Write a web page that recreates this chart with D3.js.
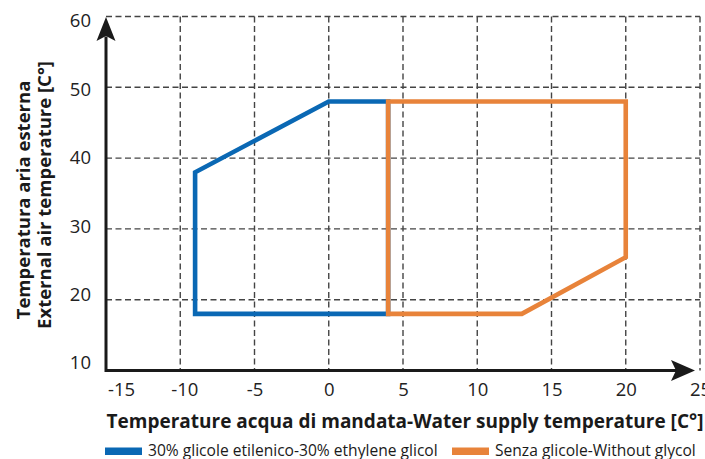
<!DOCTYPE html>
<html lang="it">
<head>
<meta charset="UTF-8">
<title>Campo di funzionamento</title>
<script src="https://d3js.org/d3.v7.min.js"></script>
<style>
  body { margin: 0; background: #fff; font-family: "Open Sans", sans-serif; }
  svg { display: block; }
</style>
</head>
<body>
<div id="chart"></div>
<script>
// values
const xTicks = [-15, -10, -5, 0, 5, 10, 15, 20, 25];
const yTicks = [10, 20, 30, 40, 50, 60];
const glycolX = [-9, -9, 0, 4, 4];
const glycolY = [18, 38, 48, 48, 18];
const waterX = [4, 20, 20, 13, 4];
const waterY = [48, 48, 26, 18, 18];
const seriesNames = ["30% glicole etilenico-30% ethylene glicol", "Senza glicole-Without glycol"];
const seriesColors = ["#0a68b4", "#e8833a"];

const width = 705, height = 459;
const svg = d3.select("#chart").append("svg").attr("width", width).attr("height", height);

const x = d3.scaleLinear().domain([-15, 25]).range([106, 700]);
const y = d3.scaleLinear().domain([10, 60]).range([370.5, 16.5]);
// the y labels in the original are spaced a little tighter than the grid
const yLab = d3.scaleLinear().domain([10, 60]).range([363, 21]);

// dashed grid
const grid = svg.append("g").attr("stroke", "#444").attr("stroke-width", 1.4).attr("stroke-dasharray", "6,3.5");
grid.selectAll(".vg").data(xTicks.slice(1)).enter().append("line")
    .attr("x1", d => x(d)).attr("x2", d => x(d))
    .attr("y1", y(60)).attr("y2", y(10));
grid.selectAll(".hg").data(yTicks.slice(1)).enter().append("line")
    .attr("x1", x(-15)).attr("x2", x(25))
    .attr("y1", d => y(d)).attr("y2", d => y(d));

// axis lines with arrows
const ax = svg.append("g").attr("fill", "#1a1a1a").attr("stroke", "#1a1a1a");
ax.append("line").attr("x1", x(-15)).attr("x2", x(25) - 20).attr("y1", y(10)).attr("y2", y(10)).attr("stroke-width", 3);
ax.append("line").attr("x1", x(-15)).attr("x2", x(-15)).attr("y1", y(10) + 1.5).attr("y2", y(60) + 20).attr("stroke-width", 3);
const tipX = x(25) - 5, ay = y(10);
ax.append("path").attr("stroke", "none")
    .attr("d", `M${tipX},${ay} L${tipX - 24},${ay - 10.5} L${tipX - 19},${ay} L${tipX - 24},${ay + 10.5} Z`);
const ax0 = x(-15), tipY = y(60) + 0.5;
ax.append("path").attr("stroke", "none")
    .attr("d", `M${ax0},${tipY} L${ax0 - 9.5},${tipY + 24} L${ax0},${tipY + 19} L${ax0 + 9.5},${tipY + 24} Z`);

// tick labels via d3 axes
const xAxis = svg.append("g").attr("transform", `translate(0,${y(10)})`)
    .call(d3.axisBottom(x).tickValues(xTicks).tickSize(0).tickPadding(12).tickFormat(d => d < 0 ? "-" + Math.abs(d) : d));
const yAxis = svg.append("g").attr("transform", `translate(${x(-15)},0)`)
    .call(d3.axisLeft(yLab).tickValues(yTicks).tickSize(0).tickPadding(15));
[xAxis, yAxis].forEach(g => {
    g.select(".domain").remove();
    g.selectAll("text").attr("fill", "#222").style("font-size", "18.5px").style("font-family", "Open Sans");
});
xAxis.selectAll("text").filter(d => d === -15).attr("dx", 15);
xAxis.selectAll("text").filter(d => d === -10).attr("dx", 4);

// envelopes
const line = d3.line().x(d => x(d[0])).y(d => y(d[1]));
[[glycolX, glycolY], [waterX, waterY]].forEach(([xs, ys], i) => {
    const pts = xs.map((v, j) => [v, ys[j]]);
    svg.append("path")
        .attr("d", line(pts) + "Z")
        .attr("fill", "none")
        .attr("stroke", seriesColors[i])
        .attr("stroke-width", 4.6)
        .attr("stroke-linejoin", "miter");
});

// titles
svg.append("text")
    .attr("x", 405).attr("y", 428)
    .attr("text-anchor", "middle")
    .attr("fill", "#1a1a1a")
    .style("font-size", "19px").style("font-weight", "bold")
    .text("Temperature acqua di mandata-Water supply temperature [C°]");

const yTitle = svg.append("g").attr("transform", "rotate(-90)")
    .attr("fill", "#1a1a1a").attr("text-anchor", "middle")
    .style("font-size", "18.5px").style("font-weight", "bold");
yTitle.append("text").attr("x", -200).attr("y", 30).text("Temperatura aria esterna");
yTitle.append("text").attr("x", -195).attr("y", 51).text("External air temperature [C°]");

// legend
const legendX = [105, 452];
seriesNames.forEach((name, i) => {
    svg.append("rect").attr("x", legendX[i]).attr("y", 447.5).attr("width", 37).attr("height", 7.5)
        .attr("fill", seriesColors[i]);
    svg.append("text").attr("x", legendX[i] + 43).attr("y", 455.5)
        .attr("fill", "#1a1a1a").style("font-size", "15.6px")
        .text(name);
});
</script>
</body>
</html>
